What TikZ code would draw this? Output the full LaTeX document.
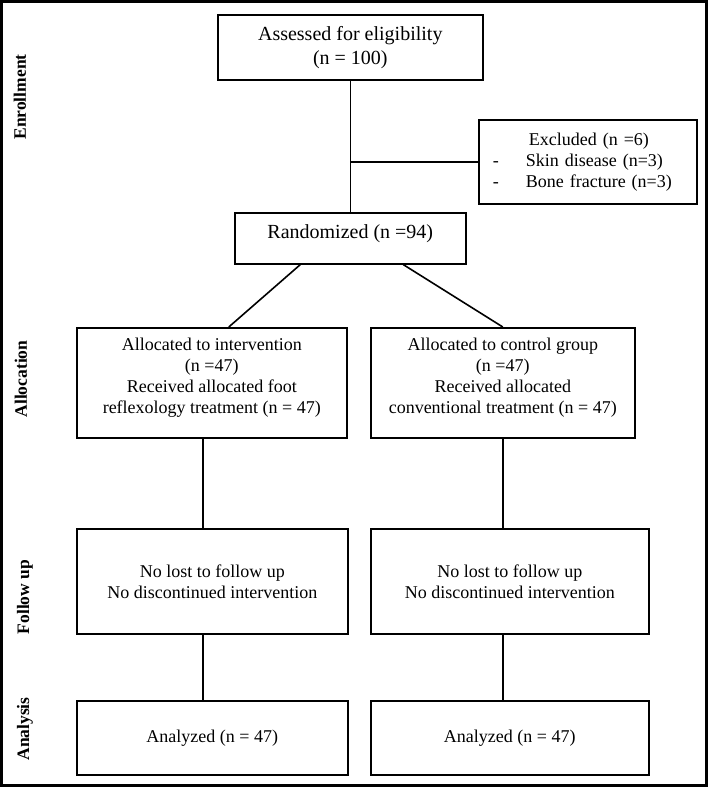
\documentclass[tikz,border=0pt]{standalone}
\usepackage{fontspec}
\setmainfont{Liberation Serif}
\begin{document}
\begin{tikzpicture}[x=1pt,y=-1pt,
    box/.style={draw,line width=1.6pt,anchor=north west,inner sep=0pt,align=center,
      font=\fontsize{18}{21}\selectfont},
    bigbox/.style={box,font=\fontsize{20}{24}\selectfont},
    phase/.style={rotate=90,font=\bfseries\fontsize{17.5}{20}\selectfont},
    link/.style={line width=1.6pt}]
        \useasboundingbox (0,0) rectangle (709,788);
        \draw[line width=3pt] (1.5,1.5) rectangle (706,785.5);
        % phases
        \node[phase] at (20,97)  (enrol) {Enrollment};
        \node[phase] at (21,379) (alloc) {Allocation};
        \node[phase] at (25,597) (follow) {Follow up};
        \node[phase] at (25,729) (anal) {Analysis};
        % boxes
        \node[bigbox,minimum width=265,minimum height=65] at (217,14) (assess)
          {Assessed for eligibility\\(n = 100)};
        \node[box,align=left,text width=190,inner xsep=14pt,minimum height=84] at (478,119) (excl)
          {\hspace*{36pt}Excluded (n =6)\\
           \makebox[33pt][l]{-}Skin disease (n=3)\\
           \makebox[33pt][l]{-}Bone fracture (n=3)};
        \node[bigbox,minimum width=231,minimum height=51,text depth=13pt] at (234,212) (rand)
          {Randomized (n =94)};
        \node[box,minimum width=270,minimum height=110,text depth=14pt] at (76,327) (allocA)
          {Allocated to intervention\\(n =47)\\Received allocated foot\\reflexology treatment (n = 47)};
        \node[box,minimum width=264,minimum height=110,text depth=14pt] at (370,327) (allocB)
          {Allocated to control group\\(n =47)\\Received allocated\\conventional treatment (n = 47)};
        \node[box,minimum width=271,minimum height=105] at (76,528) (followA)
          {No lost to follow up\\No discontinued intervention};
        \node[box,minimum width=278,minimum height=105] at (370,528) (followB)
          {No lost to follow up\\No discontinued intervention};
        \node[box,minimum width=271,minimum height=74] at (76,700) (analA)
          {Analyzed (n = 47)};
        \node[box,minimum width=278,minimum height=74] at (370,700) (analB)
          {Analyzed (n = 47)};
        % links
        \draw[link] (assess.south) -- (rand.north);
        \draw[link] (excl.west -| assess.south) -- (excl.west);
        \draw[link] ([xshift=-50pt]rand.south) -- ([xshift=17pt]allocA.north);
        \draw[link] ([xshift=53pt]rand.south) -- (allocB.north);
        \draw[link] ([xshift=-9pt]allocA.south) -- ([xshift=-9.5pt]followA.north);
        \draw[link] ([xshift=-9.5pt]followA.south) -- ([xshift=-9.5pt]analA.north);
        \draw[link] (allocB.south) -- ([xshift=-7pt]followB.north);
        \draw[link] ([xshift=-7pt]followB.south) -- ([xshift=-7pt]analB.north);
      \end{tikzpicture}
\end{document}
